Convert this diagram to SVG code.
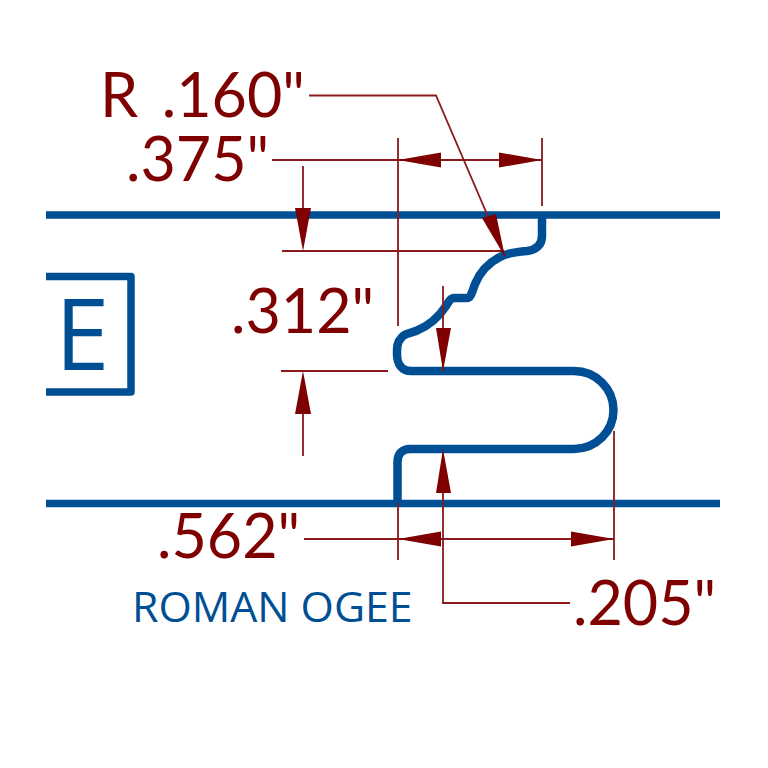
<svg xmlns="http://www.w3.org/2000/svg" width="768" height="768" viewBox="0 0 768 768">
<style>
.b{fill:none;stroke:#004f95;stroke-width:7.500;stroke-linejoin:round}
.p{stroke-width:8.500}
.d{fill:none;stroke:#8b1a1a;stroke-width:1.800}
.a{fill:#7f0000;stroke:none}
.t{font-family:Lato,"Open Sans",sans-serif;font-size:61px;fill:#7f0000}
.u{font-family:"Open Sans",sans-serif;fill:#004f95}
</style>
<rect width="768" height="768" fill="#fff"/>
<g id="profile">
<path class="b" d="M46 215H720M46 503.500H720"/>
<path class="b p" d="M542 215V236C542 245 536 250 527 251C515 252 507 253 500 257C488 263 480 272 475 284C472 292 471 298 467 298H454C451 298 449 301 446 306C439 317 428 326 416 331C411 333 405 333 402 337C397 342 397 347 397 354C397 364 402 371 411 371H574A39.500 39 0 0 1 574 449H410C402 449 397.500 454 397.500 462V503"/>
</g>
<g id="section-e">
<path class="b" d="M46 276.500H131V392H46"/>
<text class="u" x="55" y="370" font-size="98">E</text>
</g>
<g id="connectors">
<path class="d" d="M309 95.500H436L505 256"/>
<path class="d" d="M272 160H542M398 138V326M542 138V206"/>
<path class="d" d="M303 166V215M282 251H503"/>
<path class="d" d="M443 286V371M281 371H388M303 414V456"/>
<path class="d" d="M304 539H614M398 503V560M614 431V560"/>
<path class="d" d="M443 490V603H570"/>
<path class="a" d="M505 257L482 218L496 214Z"/>
<path class="a" d="M398 160L441 152.500V167.500ZM542 160L499 152.500V167.500Z"/>
<path class="a" d="M303 251L295 208H311Z"/>
<path class="a" d="M443 371L436 328H451Z"/>
<path class="a" d="M303 371L295 414H311Z"/>
<path class="a" d="M443 449L436 493H451Z"/>
<path class="a" d="M398 539L441 531.500V546.500ZM614 539L571 531.500V546.500Z"/>
</g>
<g id="labels">
<text class="t" x="100" y="117" word-spacing="8">R .160"</text>
<text class="t" x="126" y="181">.375"</text>
<text class="t" x="231" y="333">.312"</text>
<text class="t" x="157" y="558">.562"</text>
<text class="t" x="573" y="625">.205"</text>
<text class="u" x="132" y="622" font-size="42.800">ROMAN OGEE</text>
</g>
</svg>
